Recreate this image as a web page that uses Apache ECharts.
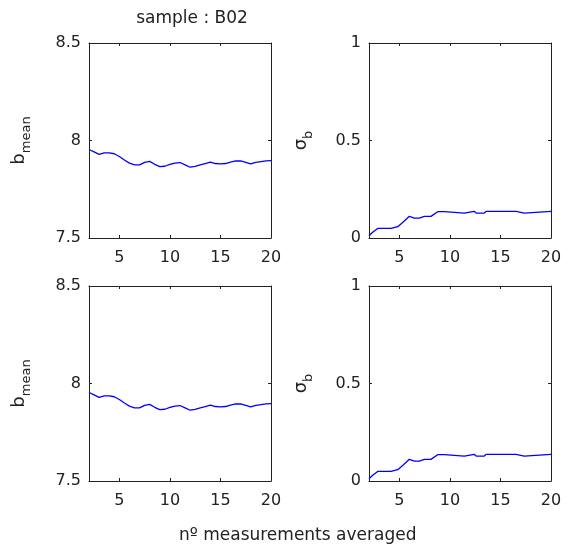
<!DOCTYPE html>
<html>
<head>
<meta charset="utf-8">
<script src="https://cdn.jsdelivr.net/npm/echarts@6/dist/echarts.min.js"></script>
<style>
  html, body { margin: 0; padding: 0; background: #fff; }
  #chart { width: 568px; height: 548px; }
</style>
</head>
<body>
<div id="chart"></div>
<script>
// b_mean against number of measurements averaged
const meanX = [2, 2.5, 3, 3.5, 4, 4.5, 5, 5.5, 6, 6.5, 7, 7.5, 8, 8.5, 9, 9.5, 10, 10.5, 11, 11.5,
  12, 12.5, 13, 13.5, 14, 14.5, 15, 15.5, 16, 16.5, 17, 17.5, 18, 18.5, 19, 19.5, 20]
const meanY = [7.954, 7.942, 7.929, 7.937, 7.937, 7.932, 7.918, 7.900, 7.884, 7.875, 7.875, 7.888,
  7.893, 7.878, 7.866, 7.868, 7.877, 7.884, 7.887, 7.875, 7.863, 7.867, 7.875, 7.882, 7.889, 7.882,
  7.880, 7.882, 7.889, 7.895, 7.895, 7.888, 7.880, 7.888, 7.892, 7.895, 7.897]

// sigma_b against number of measurements averaged
const sigmaX = [2, 2.36, 2.86, 4.18, 4.84, 5.33, 5.99, 6.48, 6.98, 7.47, 8.13, 8.79, 9.45, 9.6,
  11.43, 11.6, 12.4, 12.6, 13.4, 13.6, 16.54, 16.7, 17.35, 17.5, 20]
const sigmaY = [0.012, 0.029, 0.049, 0.049, 0.058, 0.080, 0.111, 0.102, 0.102, 0.111, 0.111,
  0.135, 0.135, 0.128, 0.128, 0.137, 0.137, 0.128, 0.128, 0.137, 0.137, 0.128, 0.128, 0.137, 0.137]

const xTicks = [5, 10, 15, 20]
const meanRange = [7.5, 8.5]
const sigmaRange = [0, 1]

const title = 'sample : B02'
const xName = 'nº measurements averaged'

const chart = echarts.init(document.getElementById('chart'))
const font = '"DejaVu Sans", sans-serif'
const ink = '#222'

const boxes = [
  { left: 89, top: 43, width: 182, height: 195 },
  { left: 369, top: 43, width: 182, height: 195 },
  { left: 89, top: 286, width: 182, height: 195 },
  { left: 369, top: 286, width: 182, height: 195 }
]

const grids = boxes.map(b => Object.assign({ containLabel: false }, b))

const xAxes = []
const yAxes = []
const series = []

boxes.forEach((b, i) => {
  const isMean = i % 2 === 0
  const range = isMean ? meanRange : sigmaRange
  // bottom x axis with labels
  xAxes.push({
    type: 'value', gridIndex: i, min: 2, max: 20, position: 'bottom',
    axisLine: { onZero: false, lineStyle: { color: ink, width: 1 } },
    axisTick: { inside: true, length: 3, customValues: xTicks, lineStyle: { color: ink } },
    axisLabel: { customValues: xTicks, color: ink, fontFamily: font, fontSize: 16, margin: 12 },
    splitLine: { show: false }
  })
  // top mirror
  xAxes.push({
    type: 'value', gridIndex: i, min: 2, max: 20, position: 'top',
    axisLine: { onZero: false, lineStyle: { color: ink, width: 1 } },
    axisTick: { inside: true, length: 3, customValues: xTicks, lineStyle: { color: ink } },
    axisLabel: { show: false },
    splitLine: { show: false }
  })
  yAxes.push({
    type: 'value', gridIndex: i, min: range[0], max: range[1], interval: 0.5, position: 'left',
    name: isMean ? '{b|b}{s|mean}' : '{b|σ}{s|b}',
    nameLocation: 'middle', nameGap: isMean ? 56 : 54, nameRotate: 90,
    nameTextStyle: {
      color: ink, fontFamily: font,
      rich: {
        b: { fontSize: 18, fontFamily: font, color: ink },
        s: { fontSize: 13, fontFamily: font, color: ink, padding: [14, 0, 0, 0] }
      }
    },
    axisLine: { onZero: false, lineStyle: { color: ink, width: 1 } },
    axisTick: { inside: true, length: 3, lineStyle: { color: ink } },
    axisLabel: {
      color: ink, fontFamily: font, fontSize: 16, margin: 8,
      formatter: v => String(v)
    },
    splitLine: { show: false }
  })
  yAxes.push({
    type: 'value', gridIndex: i, min: range[0], max: range[1], interval: 0.5, position: 'right',
    axisLine: { onZero: false, lineStyle: { color: ink, width: 1 } },
    axisTick: { inside: true, length: 3, lineStyle: { color: ink } },
    axisLabel: { show: false },
    splitLine: { show: false }
  })
  const xs = isMean ? meanX : sigmaX
  const ys = isMean ? meanY : sigmaY
  series.push({
    type: 'line', xAxisIndex: i * 2, yAxisIndex: i * 2,
    data: xs.map((x, k) => [x, ys[k]]),
    showSymbol: false, symbol: 'none',
    lineStyle: { color: '#0000ff', width: 1.3 },
    animation: false
  })
})

chart.setOption({
  backgroundColor: '#fff',
  animation: false,
  title: {
    text: title, left: 187, top: 5, textAlign: 'center',
    textStyle: { fontFamily: font, fontSize: 17, fontWeight: 'normal', color: ink }
  },
  graphic: [{
    type: 'text', left: 179, top: 527,
    style: { text: xName, font: '17px ' + font, fill: ink }
  }],
  grid: grids,
  xAxis: xAxes,
  yAxis: yAxes,
  series: series
})
</script>
</body>
</html>
